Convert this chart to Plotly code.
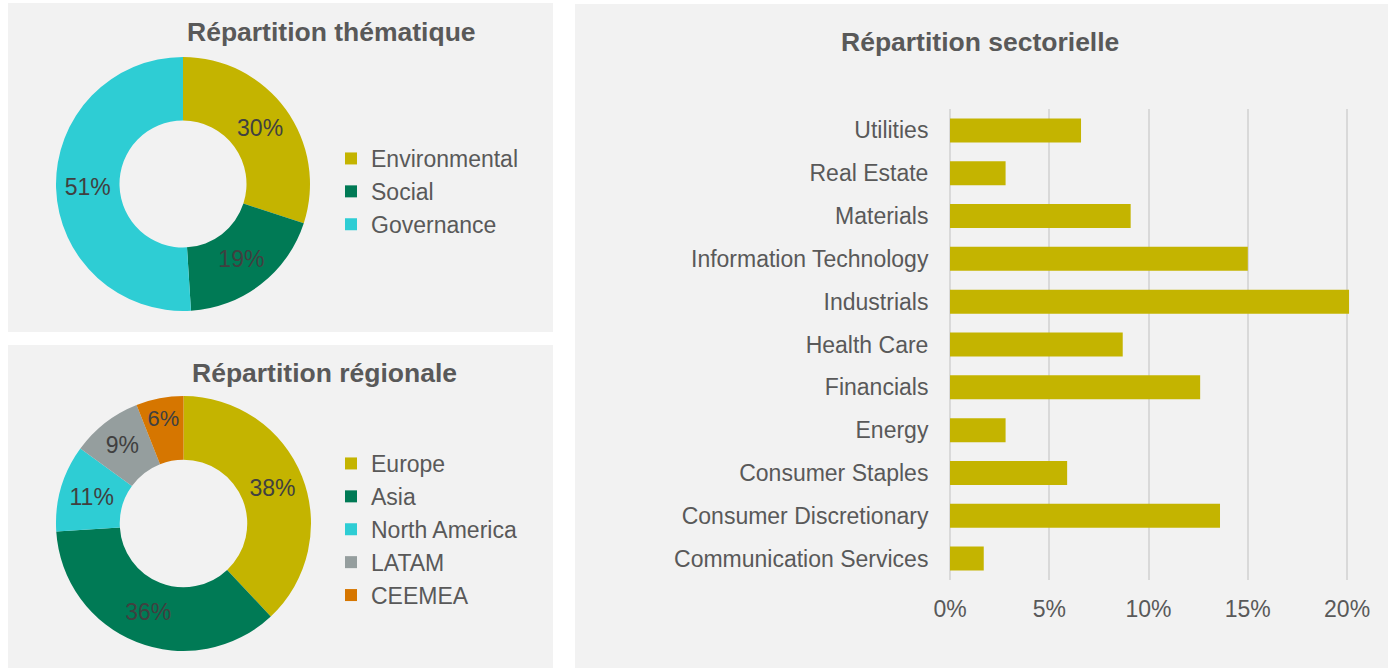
import plotly.graph_objects as go

W, H = 1391, 668

# 数据
theme_labels = ["Environmental", "Social", "Governance"]
theme_values = [30, 19, 51]
theme_colors = ["#C4B400", "#007A55", "#2ECDD4"]

region_labels = ["Europe", "Asia", "North America", "LATAM", "CEEMEA"]
region_values = [38, 36, 11, 9, 6]
region_colors = ["#C4B400", "#007A55", "#2ECDD4", "#959E9E", "#D67600"]

sectors = ["Communication Services", "Consumer Discretionary", "Consumer Staples", "Energy",
           "Financials", "Health Care", "Industrials", "Information Technology",
           "Materials", "Real Estate", "Utilities"]
sector_values = [0.017, 0.136, 0.059, 0.028, 0.126, 0.087, 0.201, 0.150, 0.091, 0.028, 0.066]

FONT = "Liberation Sans, Arial, sans-serif"
TXT = "#595959"


def px_x(x): return x / W
def px_y(y): return 1 - y / H


fig = go.Figure()

# ====== 主题环形图 ======
fig.add_trace(go.Pie(
    labels=theme_labels, values=theme_values, hole=0.5, sort=False, direction="clockwise", rotation=0,
    marker=dict(colors=theme_colors, line=dict(width=0)),
    texttemplate="%{percent:.0%}", textposition="inside", insidetextorientation="horizontal",
    textfont=dict(size=23, color="#404040", family=FONT),
    domain=dict(x=[px_x(56), px_x(310)], y=[px_y(311), px_y(57)]),
    legend="legend", hoverinfo="label+percent",
))

# ====== 区域环形图 ======
fig.add_trace(go.Pie(
    labels=region_labels, values=region_values, hole=0.5, sort=False, direction="clockwise", rotation=0,
    marker=dict(colors=region_colors, line=dict(width=0)),
    texttemplate="%{percent:.0%}", textposition="inside", insidetextorientation="horizontal",
    textfont=dict(size=23, color="#404040", family=FONT),
    domain=dict(x=[px_x(56), px_x(311)], y=[px_y(651), px_y(396)]),
    legend="legend2", hoverinfo="label+percent",
))

# ====== 行业柱状图 ======
fig.add_trace(go.Bar(
    x=sector_values, y=sectors, orientation="h", marker=dict(color="#C4B400", line=dict(width=0)),
    showlegend=False, hovertemplate="%{y}: %{x:.1%}<extra></extra>",
))

panels = [(8, 3, 553, 332), (8, 345, 553, 668), (575, 4, 1388, 668)]
shapes = [dict(type="rect", xref="paper", yref="paper", x0=px_x(a), x1=px_x(c), y0=px_y(d), y1=px_y(b),
               fillcolor="#F2F2F2", line=dict(width=0), layer="below") for a, b, c, d in panels]

titles = [("Répartition thématique", 331, 32), ("Répartition régionale", 324, 373), ("Répartition sectorielle", 980, 42)]
annotations = [dict(text=f"<b>{t}</b>", x=px_x(x), y=px_y(y), xref="paper", yref="paper", showarrow=False,
                    xanchor="center", yanchor="middle", font=dict(size=26.5, color=TXT, family=FONT))
               for t, x, y in titles]

fig.update_layout(
    template="none",
    width=W, height=H, autosize=False, margin=dict(l=0, r=0, t=0, b=0, pad=0),
    paper_bgcolor="white", plot_bgcolor="rgba(0,0,0,0)",
    font=dict(family=FONT, color=TXT, size=23),
    shapes=shapes, annotations=annotations, bargap=0.44,
    legend=dict(x=px_x(331), y=px_y(137), xanchor="left", yanchor="top", bgcolor="rgba(0,0,0,0)",
                font=dict(size=23, color=TXT), itemclick=False),
    legend2=dict(x=px_x(331), y=px_y(442), xanchor="left", yanchor="top", bgcolor="rgba(0,0,0,0)",
                 font=dict(size=23, color=TXT), itemclick=False),
    xaxis=dict(domain=[px_x(950), px_x(1357)], range=[0, 0.205], tickformat=".0%", dtick=0.05, tick0=0,
               showgrid=True, gridcolor="#D9D9D9", gridwidth=1.5, zeroline=True, zerolinecolor="#D9D9D9",
               zerolinewidth=1.5, showline=False, ticks="outside", ticklen=8, tickcolor="rgba(0,0,0,0)",
               tickfont=dict(size=23, color=TXT), fixedrange=True, automargin=False),
    yaxis=dict(domain=[px_y(580), px_y(109)], showgrid=False, showline=False, ticks="outside", ticklen=16,
               tickcolor="rgba(0,0,0,0)", tickfont=dict(size=23, color=TXT), fixedrange=True, automargin=False),
)

# 去掉页面默认的 body 边距，让图表贴齐窗口左上角
fig.write_html("out.html", config={"displayModeBar": False},
               post_script="document.body.style.margin='0';")
